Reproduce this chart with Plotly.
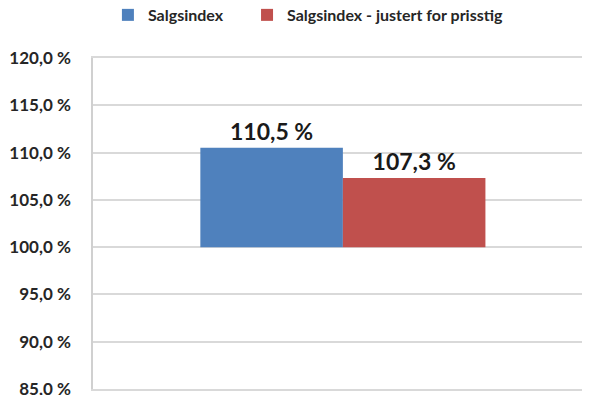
import plotly.graph_objects as go

categories = [""]
series_names = ["Salgsindex", "Salgsindex - justert for prisstig"]
series_values = [[110.5], [107.3]]
series_colors = ["#4F81BD", "#C0504D"]
base_value = 100
tick_values = [85, 90, 95, 100, 105, 110, 115, 120]
tick_labels = ["85,0 %", "90,0 %", "95,0 %", "100,0 %", "105,0 %", "110,0 %", "115,0 %", "120,0 %"]

legend_ids = ["legend", "legend2"]

fig = go.Figure()
for name, vals, col, lid in zip(series_names, series_values, series_colors, legend_ids):
    fig.add_trace(go.Bar(
        x=categories,
        y=[v - base_value for v in vals],
        base=base_value,
        name=name,
        legend=lid,
        marker=dict(color=col, line=dict(width=0)),
        text=[f"{v:.1f} %".replace(".", ",") for v in vals],
        textposition="outside",
        textfont=dict(family="Lato", size=23, color="#1a1a1a", weight="bold"),
        cliponaxis=False,
        hoverinfo="skip",
    ))

legend_style = dict(
    orientation="h", xanchor="left", y=1.13, yanchor="middle",
    font=dict(family="Lato", size=16, color="#262626", weight="bold"),
    itemclick=False, itemdoubleclick=False, bgcolor="rgba(0,0,0,0)",
)

fig.update_layout(
    width=574, height=387,
    margin=dict(l=85, r=0, t=50, b=6, autoexpand=False),
    paper_bgcolor="white", plot_bgcolor="white",
    barmode="group", bargap=0.417, bargroupgap=0,
    font=dict(family="Lato", color="#262626"),
    showlegend=True,
    legend=dict(x=0.0305, **legend_style),
    legend2=dict(x=0.315, **legend_style),
    xaxis=dict(showticklabels=False, showgrid=False, zeroline=False,
               showline=True, mirror=True, linecolor="#d9d9d9", linewidth=1.5,
               fixedrange=True, range=[-0.511, 0.489]),
    yaxis=dict(
        range=[85, 120], tickvals=tick_values, ticktext=tick_labels,
        tickfont=dict(family="Lato", size=17, color="#262626", weight="bold"),
        showgrid=True, gridcolor="#d9d9d9", gridwidth=1.5,
        showline=True, linecolor="#d0d0d0", linewidth=1.5,
        zeroline=False, ticks="", ticklabelstandoff=17,
        ticklabeloverflow="allow",
    ),
)

fig.write_html("out.html")
